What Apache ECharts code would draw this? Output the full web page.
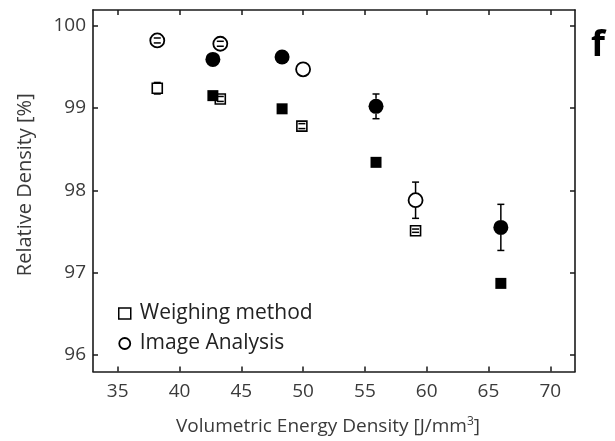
<!DOCTYPE html>
<html><head><meta charset="utf-8">
<script src="https://cdn.jsdelivr.net/npm/echarts@6/dist/echarts.min.js"></script>
<style>html,body{margin:0;padding:0;background:#fff}#c{width:615px;height:441px}</style>
</head><body><div id="c"></div>
<script>
// Weighing method (squares)
var openSqX = [38.2, 43.3, 49.9, 59.1];
var openSqY = [99.24, 99.11, 98.78, 97.51];
var openSqErr = [0.07, 0.03, 0.03, 0.02];
var filledSqX = [42.7, 48.3, 55.9, 66.0];
var filledSqY = [99.15, 98.99, 98.34, 96.87];
var filledSqErr = [0.02, 0.02, 0.03, 0.02];
// Image analysis (circles)
var openCiX = [38.2, 43.3, 50.0, 59.1];
var openCiY = [99.82, 99.78, 99.47, 97.88];
var openCiErr = [0.03, 0.03, 0, 0.22];
var filledCiX = [42.7, 48.3, 55.9, 66.0];
var filledCiY = [99.59, 99.62, 99.02, 97.55];
var filledCiErr = [0.02, 0.02, 0.15, 0.28];
var xTicks = [35, 40, 45, 50, 55, 60, 65, 70];
var yTicks = [96, 97, 98, 99, 100];

var FONT = '"Open Sans", "Noto Sans", sans-serif';
var TXT = '#3a3a3a';
function pts(xs, ys) { return xs.map(function (x, i) { return [x, ys[i]]; }); }
function errPts(xs, ys, es) { return xs.map(function (x, i) { return [x, ys[i], es[i]]; }); }

function errSeries(data, r) {
  return {
    type: 'custom', z: 5, silent: true,
    data: data,
    renderItem: function (params, api) {
      var x = api.value(0), y = api.value(1), e = api.value(2);
      if (!e) return { type: 'group', children: [] };
      var c = api.coord([x, y]);
      var top = api.coord([x, y + e]);
      var bot = api.coord([x, y - e]);
      var cw = 3.5;
      var st = { stroke: '#000', lineWidth: 1.5 };
      var children = [
        { type: 'line', shape: { x1: c[0] - cw, y1: top[1], x2: c[0] + cw, y2: top[1] }, style: st },
        { type: 'line', shape: { x1: c[0] - cw, y1: bot[1], x2: c[0] + cw, y2: bot[1] }, style: st }
      ];
      if (top[1] < c[1] - r) children.push({ type: 'line', shape: { x1: c[0], y1: top[1], x2: c[0], y2: c[1] - r }, style: st });
      if (bot[1] > c[1] + r) children.push({ type: 'line', shape: { x1: c[0], y1: c[1] + r, x2: c[0], y2: bot[1] }, style: st });
      return { type: 'group', children: children };
    }
  };
}

var AXLINE = { show: true, onZero: false, lineStyle: { color: '#1a1a1a', width: 1.6 } };
function ticks(vals) {
  return { show: true, inside: true, length: 5, customValues: vals, lineStyle: { color: '#1a1a1a', width: 1.5 } };
}

var chart = echarts.init(document.getElementById('c'));
chart.setOption({
  animation: false,
  backgroundColor: '#fff',
  grid: { left: 93, right: 40, top: 10, bottom: 68 },
  xAxis: [
    {
      type: 'value', min: 33, max: 72, position: 'bottom',
      axisLine: AXLINE, splitLine: { show: false },
      axisLabel: { color: TXT, fontSize: 19, fontFamily: FONT, margin: 11, customValues: xTicks },
      axisTick: ticks(xTicks),
      name: '{a|Volumetric Energy Density [J/mm}{s|3}{a|]}', nameLocation: 'middle', nameGap: 44,
      nameTextStyle: { padding: [0, 12, 0, 0], rich: {
        a: { fontSize: 19, color: TXT, fontFamily: FONT },
        s: { fontSize: 12, color: TXT, fontFamily: FONT, verticalAlign: 'top', padding: [0, 0, 10, 0] }
      } }
    },
    {
      type: 'value', min: 33, max: 72, position: 'top',
      axisLine: AXLINE, splitLine: { show: false },
      axisLabel: { show: false },
      axisTick: ticks(xTicks)
    }
  ],
  yAxis: [
    {
      type: 'value', min: 95.8, max: 100.19, position: 'left',
      axisLine: AXLINE, splitLine: { show: false },
      axisLabel: { color: TXT, fontSize: 19, fontFamily: FONT, margin: 7, customValues: yTicks },
      axisTick: ticks(yTicks),
      name: 'Relative Density [%]', nameLocation: 'middle', nameGap: 58,
      nameTextStyle: { fontSize: 20, color: TXT, fontFamily: FONT, padding: [0, 0, 0, 12] }
    },
    {
      type: 'value', min: 95.8, max: 100.19, position: 'right',
      axisLine: AXLINE, splitLine: { show: false },
      axisLabel: { show: false },
      axisTick: ticks(yTicks)
    }
  ],
  legend: {
    orient: 'vertical', left: 113, top: 298, itemGap: 9,
    itemWidth: 12, itemHeight: 11,
    textStyle: { fontSize: 21, color: '#222', fontFamily: FONT, padding: [0, 0, 0, 4] },
    data: [
      { name: 'Weighing method', icon: 'rect', itemStyle: { color: '#fff', borderColor: '#000', borderWidth: 1.5 } },
      { name: 'Image Analysis', icon: 'circle', itemStyle: { color: '#fff', borderColor: '#000', borderWidth: 1.8 } }
    ]
  },
  graphic: [
    { type: 'text', left: 591, top: 28, style: { text: 'f', font: 'bold 36px ' + FONT, fill: '#000' } }
  ],
  series: [
    { name: 'Weighing method', type: 'scatter', z: 3, data: pts(openSqX, openSqY), symbol: 'rect', symbolSize: 10,
      itemStyle: { color: '#fff', borderColor: '#000', borderWidth: 1.6, opacity: 1 } },
    { name: 'Weighing filled', type: 'scatter', z: 3, data: pts(filledSqX, filledSqY), symbol: 'rect', symbolSize: 11,
      itemStyle: { color: '#000', opacity: 1 } },
    { name: 'Image Analysis', type: 'scatter', z: 3, data: pts(openCiX, openCiY), symbol: 'circle', symbolSize: 14,
      itemStyle: { color: '#fff', borderColor: '#000', borderWidth: 1.8, opacity: 1 } },
    { name: 'Image filled', type: 'scatter', z: 3, data: pts(filledCiX, filledCiY), symbol: 'circle', symbolSize: 15,
      itemStyle: { color: '#000', opacity: 1 } },
    errSeries(errPts(openSqX, openSqY, openSqErr), 5),
    errSeries(errPts(filledSqX, filledSqY, filledSqErr), 5.5),
    errSeries(errPts(openCiX, openCiY, openCiErr), 7),
    errSeries(errPts(filledCiX, filledCiY, filledCiErr), 7.5)
  ]
});
</script></body></html>
